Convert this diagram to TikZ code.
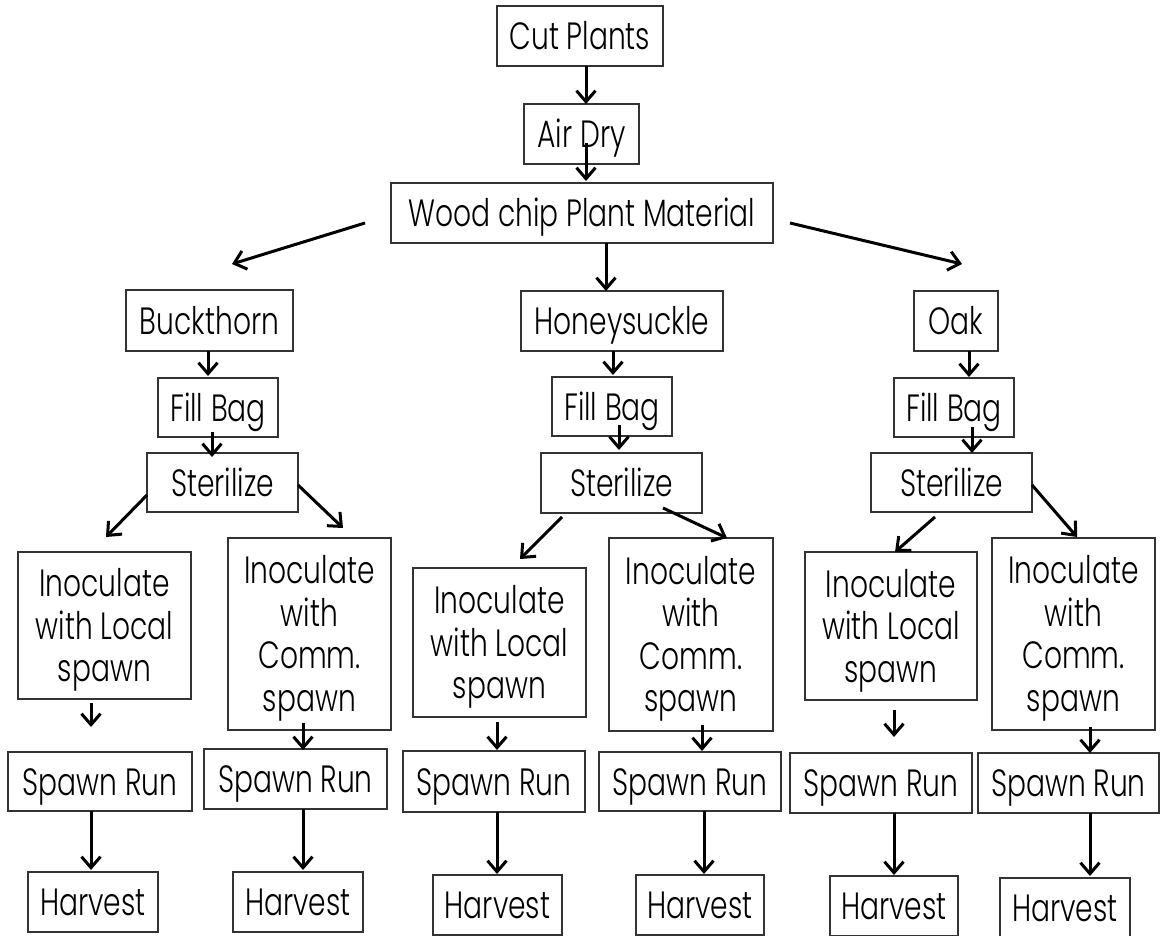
\documentclass[tikz,border=0pt]{standalone}
\usepackage{fontspec}
\setmainfont{Poppins}[UprightFont={* Light}]
\usetikzlibrary{arrows.meta,calc}
\newcommand\sx{0.74}
\newcommand\tx[1]{\raisebox{-5pt}[\height][\depth]{\scalebox{\sx}[1]{\begin{tabular}{@{}c@{}}#1\end{tabular}}}}
\newcommand\ar[4]{\draw[arr] ($(#1)+(#2)$) -- ($(#3)+(#4)$);}
\newcommand\bx[6]{\node[box, minimum width=#4pt, minimum height=#5pt] (#1) at (#2,#3) {\tx{#6}};}
\tikzset{
  box/.style={draw=black!80, line width=1.8pt, inner sep=0pt, font=\fontsize{38}{42.5}\selectfont, text=black},
  arr/.style={-{Straight Barb[length=11pt,width=19pt]}, line width=3pt, black}
}
\begin{document}
\begin{tikzpicture}[x=1pt,y=-1pt]
\useasboundingbox (0,0) rectangle (1160,936);
\clip (0,0) rectangle (1160,936);
% top
\bx{cut}{580}{36}{166}{60}{Cut Plants}
\bx{air}{581.5}{134}{115}{60}{Air Dry}
\bx{wood}{582}{213}{382}{60}{Wood chip Plant Material}
% species
\bx{buck}{209.5}{320.5}{167}{61}{Buckthorn}
\bx{honey}{622}{321}{202}{60}{Honeysuckle}
\bx{oak}{956}{321}{84}{60}{Oak}
% fill bag
\bx{fbB}{218}{407.5}{120}{59}{Fill Bag}
\bx{fbH}{612}{406.5}{120}{59}{Fill Bag}
\bx{fbO}{954}{407.5}{120}{59}{Fill Bag}
% sterilize
\bx{stB}{222.5}{482.5}{151}{59}{Sterilize}
\bx{stH}{621.5}{483}{161}{60}{Sterilize}
\bx{stO}{951.5}{482.5}{161}{59}{Sterilize}
% inoculate
\bx{inLB}{104.5}{625.5}{173}{147}{Inoculate\\with Local\\spawn}
\bx{inCB}{309.5}{634}{163}{192}{Inoculate\\with\\Comm.\\spawn}
\bx{inLH}{499.5}{642.5}{173}{149}{Inoculate\\with Local\\spawn}
\bx{inCH}{691}{634.5}{164}{193}{Inoculate\\with\\Comm.\\spawn}
\bx{inLO}{891}{626}{172}{148}{Inoculate\\with Local\\spawn}
\bx{inCO}{1073.5}{634}{163}{192}{Inoculate\\with\\Comm.\\spawn}
% spawn run
\bx{srLB}{100}{781.5}{184}{59}{Spawn Run}
\bx{srCB}{295.5}{779}{183}{60}{Spawn Run}
\bx{srLH}{494}{781.5}{182}{61}{Spawn Run}
\bx{srCH}{690}{781.5}{182}{59}{Spawn Run}
\bx{srLO}{881}{783}{182}{60}{Spawn Run}
\bx{srCO}{1068.5}{783}{181}{60}{Spawn Run}
% harvest
\bx{hvLB}{93}{902}{130}{60}{Harvest}
\bx{hvCB}{298}{902}{130}{60}{Harvest}
\bx{hvLH}{497.5}{905}{129}{60}{Harvest}
\bx{hvCH}{700}{905}{128}{60}{Harvest}
\bx{hvLO}{894}{906}{128}{60}{Harvest}
\bx{hvCO}{1065}{908}{130}{60}{Harvest}
% arrows
\ar{cut}{6,30}{air}{4.5,-30}
\ar{air}{4.5,9}{wood}{4,-32}
\ar{wood}{-217,10}{buck}{22.5,-56.5}
\ar{wood}{24,30}{honey}{-16,-30}
\ar{wood}{208,10}{oak}{6,-57}
\ar{buck}{-1.5,30.5}{fbB}{-10,-31.5}
\ar{fbB}{-6,24.5}{stB}{-10.5,-25.5}
\ar{stB}{-75.5,12.5}{inLB}{1.5,-88.5}
\ar{stB}{75.5,2.5}{inCB}{33.5,-106}
\ar{inLB}{-13.5,77.5}{srLB}{-9,-54.5}
\ar{inCB}{-6.5,89}{srCB}{7.5,-29}
\ar{srLB}{-9,29.5}{hvLB}{-2,-32}
\ar{srCB}{7.5,30}{hvCB}{5,-32}
\ar{honey}{-9,30}{fbH}{1,-31.5}
\ar{fbH}{7,18.5}{stH}{-2.5,-33}
\ar{stH}{-59.5,34}{inLH}{20.5,-83.5}
\ar{stH}{41.5,25}{inCH}{36,-96.5}
\ar{inLH}{-2.5,79.5}{srLH}{3,-31.5}
\ar{inCH}{11,90.5}{srCH}{12,-30.5}
\ar{srLH}{3,30.5}{hvLH}{-0.5,-31}
\ar{srCH}{14,29.5}{hvCH}{4,-31}
\ar{oak}{13,30}{fbO}{15,-30.5}
\ar{fbO}{18,19.5}{stO}{20.5,-29.5}
\ar{stO}{-16.5,34.5}{inLO}{4,-74}
\ar{stO}{80.5,2.5}{inCO}{3.5,-97}
\ar{inLO}{3,84}{srLO}{13,-46}
\ar{inCO}{16.5,93}{srCO}{21.5,-30}
\ar{srLO}{13,30}{hvLO}{0,-31}
\ar{srCO}{21.5,30}{hvCO}{25,-32}
\end{tikzpicture}
\end{document}
